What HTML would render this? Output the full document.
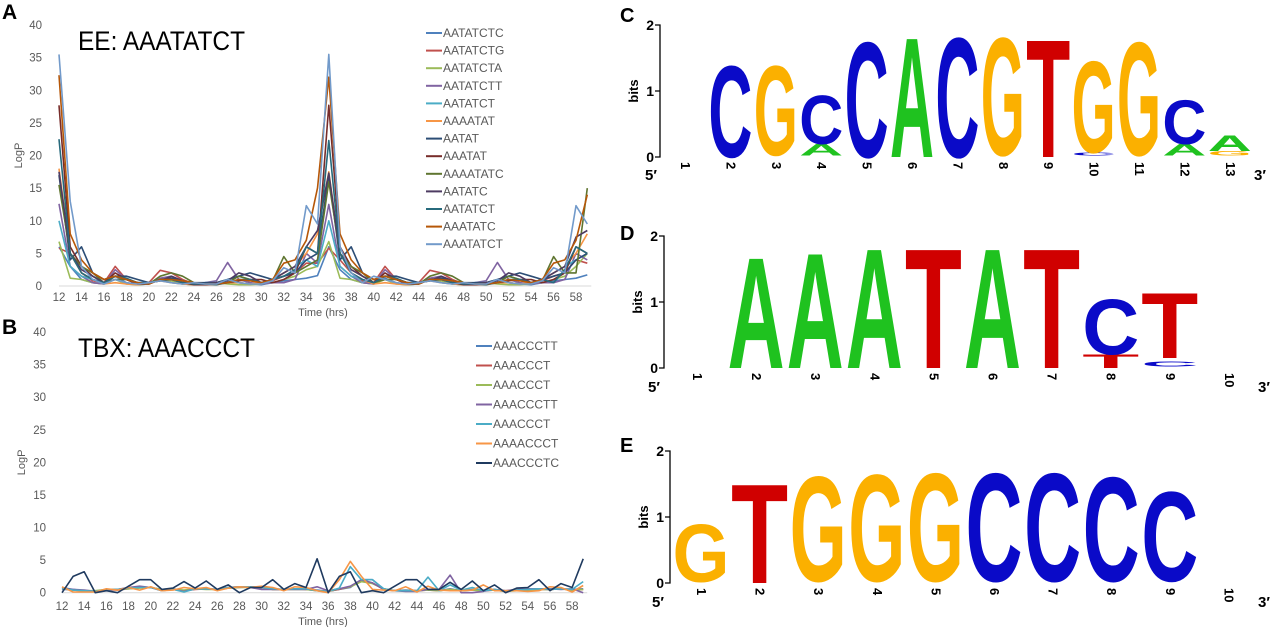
<!DOCTYPE html>
<html><head><meta charset="utf-8"><style>
html,body{margin:0;padding:0;background:#fff;}
svg{display:block;font-family:"Liberation Sans",Arial,sans-serif;}
</style></head><body>
<svg id="fig" width="1280" height="627" viewBox="0 0 1280 627" xmlns="http://www.w3.org/2000/svg">
<g id="panelA"></g>
<g id="panelB"></g>
<g id="logoC"></g>
<g id="logoD"></g>
<g id="logoE"></g>
</svg>
<script>
const hours = [12,13,14,15,16,17,18,19,20,21,22,23,24,25,26,27,28,29,30,31,32,33,34,35,36,37,38,39,40,41,42,43,44,45,46,47,48,49,50,51,52,53,54,55,56,57,58,59];
const tickHours = [12,14,16,18,20,22,24,26,28,30,32,34,36,38,40,42,44,46,48,50,52,54,56,58];
const yTicks = [0,5,10,15,20,25,30,35,40];

const namesA = ["AATATCTC","AATATCTG","AATATCTA","AATATCTT","AATATCT","AAAATAT","AATAT","AAATAT","AAAATATC","AATATC","AATATCT","AAATATC","AAATATCT"];
const colorsA = ["#4f81bd","#c0504d","#9bbb59","#8064a2","#4bacc6","#f79646","#2c4d75","#772c2a","#5f7530","#4d3b62","#276a7c","#b65708","#729aca"];
const a1 = [6,3,1,0.5,0.3,1.5,0.5,0.2,0.3,1,0.5,0.3,0.2,0.3,0.2,1,0.5,0.3,0.2,0.5,0.8,1,1.2,1.6,6,2.5,1,0.5,0.3,1.2,0.5,0.2,0.3,1,0.5,0.3,0.2,0.3,0.2,1,0.5,0.3,0.2,0.5,0.8,1,1.2,1.7];
const a2 = [5.8,5,2,0.8,0.5,3,1,0.3,0.5,2.4,2,1,0.3,0.2,0.3,0.5,0.5,0.3,0.5,0.8,1.5,2,3.5,3.5,5.8,4,2,0.8,0.5,3,1,0.3,0.5,2.4,2,1,0.3,0.2,0.3,0.5,0.5,0.3,0.5,0.8,1.5,2,4,3.5];
const a3 = [6.8,1.2,1,0.5,0.3,1,0.3,0.2,0.3,1,0.8,0.3,0.2,0.2,0.5,0.3,0.2,0.2,0.3,0.5,1,1.5,2.5,3,6.8,1.2,1,0.5,0.3,1,0.3,0.2,0.3,1,0.8,0.3,0.2,0.2,0.5,0.3,0.2,0.2,0.3,0.5,1,1.5,3,5];
const a4 = [12.6,3,1.5,0.5,0.3,2.5,1,0.3,0.3,1.2,1.5,0.8,0.3,0.5,0.8,3.6,1,0.5,0.3,0.5,0.5,1,5,3.5,12.5,3,1.5,0.5,0.3,2.5,1,0.3,0.3,1.2,1.5,0.8,0.3,0.5,0.8,3.6,1,0.5,0.3,0.5,0.5,1,5,4];
const a5 = [10,3,1.5,1,0.5,1.5,1,0.5,0.5,1,1,0.5,0.3,0.5,0.5,1,1.5,1,0.5,1,2,3,4,3,10,3,1.5,1,0.5,1.5,1,0.5,0.5,1,1,0.5,0.3,0.5,0.5,1,1.5,1,0.5,1,2,3,4,5];
const a6 = [18,5,2,1,0.3,0.5,0.3,0.2,0.5,0.8,0.5,0.3,0.2,0.3,0.2,0.5,0.5,0.3,0.5,1,2,3,5,8,17.5,5,2,1,0.3,0.5,0.3,0.2,0.5,0.8,0.5,0.3,0.2,0.3,0.2,0.5,0.5,0.3,0.5,1,2,3,5,8];
const a7 = [17,4,6,2,1,1.5,1.5,1,0.5,1,1.2,0.8,0.5,0.5,0.5,1,1.5,2,1.5,1,1.5,2,4,5,17,4,6,2,1,1.5,1.5,1,0.5,1,1.2,0.8,0.5,0.5,0.5,1,1.5,2,1.5,1,1.5,2,4,5];
const a8 = [27.7,6,3,1.5,0.5,2,1,0.3,0.3,1,1,0.5,0.2,0.2,0.3,0.5,0.8,1,1,0.5,1,2,6,5,27.7,6,3,1.5,0.5,2,1,0.3,0.3,1,1,0.5,0.2,0.2,0.3,0.5,0.8,1,1,0.5,1,2,6,5];
const a9 = [15.5,5,3,2,0.5,1,1,0.5,0.3,1.5,2,1.5,0.5,0.3,0.5,0.5,1.5,1,0.5,0.8,4.5,2,3,4,16,5,3,2,0.5,1,1,0.5,0.3,1.5,2,1.5,0.5,0.3,0.5,0.5,1.5,1,0.5,0.8,4.5,2,2,15];
const a10 = [17.5,5,2.5,1.5,0.5,1.5,1,0.5,0.5,0.8,1.5,0.8,0.3,0.3,0.5,0.8,2,1.5,0.5,1,2,3,6,8.5,17.3,5,2.5,1.5,0.5,1.5,1,0.5,0.5,0.8,1.5,0.8,0.3,0.3,0.5,0.8,2,1.5,0.5,1,2,3,7.5,8.5];
const a11 = [22.5,5,2,1,0.5,1.5,1.2,0.5,0.5,0.8,1,0.5,0.3,0.3,0.2,0.5,1,1,0.5,1,1.5,2.5,6,5,22.3,5,2,1,0.5,1.5,1.2,0.5,0.5,0.8,1,0.5,0.3,0.3,0.2,0.5,1,1,0.5,1,0.5,2.5,6,5];
const a12 = [32.3,8,4,2,1,1.5,1,0.5,0.3,1,1,0.8,0.5,0.3,0.3,0.5,1,0.8,0.5,1,3.5,4,7,15,32,8,4,2,1,1.5,1,0.5,0.3,1,1,0.8,0.5,0.3,0.3,0.5,1,0.8,0.5,1,3.5,4,7,14];
const a13 = [35.5,13,3,1,0.3,1,0.5,0.3,0.5,0.8,0.5,0.3,0.5,0.3,0.3,1,0.5,0.3,0.3,0.8,2.8,2,12.3,9.5,35.5,6,2,0.5,1.5,1,0.5,0.3,0.5,0.8,0.5,0.3,0.5,0.3,0.3,1,0.5,0.3,0.3,0.8,2.8,2,12.3,9.5];
const seriesA = [a1,a2,a3,a4,a5,a6,a7,a8,a9,a10,a11,a12,a13];

const namesB = ["AAACCCTT","AAACCCT","AAACCCT","AAACCCTT","AAACCCT","AAAACCCT","AAACCCTC"];
const colorsB = ["#4f81bd","#c0504d","#9bbb59","#8064a2","#4bacc6","#f79646","#1f3a5f"];
const b1 = [0.8,0.5,0.3,0.2,0.5,0.5,0.7,0.9,0.8,0.5,0.6,0.3,0.6,0.6,0.5,0.8,0.9,0.9,0.8,0.6,0.5,0.6,0.6,0.4,0.2,0.5,0.8,2,2,0.6,0.3,0.4,0.3,0.5,0.3,0.6,0.3,0.5,0.3,0.5,0.2,0.4,0.5,0.6,0.5,0.6,0.5,0.6];
const b2 = [0.7,0.4,0.3,0.2,0.5,0.4,0.6,0.8,0.8,0.4,0.5,0.3,0.5,0.6,0.5,0.7,0.8,0.9,0.8,0.5,0.5,0.6,0.5,0.3,0.2,0.5,0.9,1.8,1.5,0.5,0.3,0.3,0.3,0.4,0.3,0.5,0.3,0.4,0.3,0.4,0.2,0.4,0.4,0.5,0.5,0.6,0.4,0.5];
const b3 = [0.6,0.4,0.3,0.3,0.5,0.5,0.6,0.7,0.8,0.5,0.5,0.4,0.6,0.5,0.5,0.7,0.8,0.8,0.8,0.5,0.5,0.5,0.5,0.3,0.2,0.6,0.9,1.7,1.4,0.6,0.3,0.3,0.3,0.4,0.3,0.5,0.3,0.4,0.3,0.4,0.2,0.3,0.4,0.5,0.5,0.6,0.4,0.5];
const b4 = [0.5,0.5,0.4,0.2,0.3,0.5,0.8,1,0.8,0.3,0.5,0.2,0.6,0.6,0.5,0.8,0.9,0.8,0.5,0.5,0.5,0.5,0.5,0.9,0.3,0.6,1,2,1.5,0.5,0.3,0.2,0.2,0.5,0.5,2.7,0,0,0.2,0.5,0.3,0.5,0.6,0.6,0.6,0.5,0.6,0];
const b5 = [0.6,0.4,0.3,0.2,0.5,0.5,0.7,0.8,0.8,0.3,0.5,0.1,0.6,0.6,0.5,0.8,0.9,0.9,0.8,0.6,0.5,0.6,0.6,0.3,0.2,0.7,4,2,2,0.6,0.3,0.3,0.3,2.4,0.3,1.2,0.4,0.8,0.3,0.5,0.2,0.4,0.5,0.6,0.5,0.6,0.5,1.7];
const b6 = [0.9,0.1,0.1,0.1,0.6,0.4,0.8,0.4,0.9,0.3,0.4,0.8,0.6,0.8,0.3,0.7,0.9,0.8,1,0.8,0.3,0.9,0.8,0.3,0,2,4.8,2.5,0.5,0.4,0.3,0.9,0.1,1,0.4,0.3,0.3,0.4,1.2,0.3,0.3,0.3,0.2,0.3,0.9,0.8,0.1,1.1];
const b7 = [0,2.5,3.2,0,0.3,0,1,2,2,0.5,0.7,1.7,0.7,1.8,0.5,1.2,0,0.8,0.8,2,0.5,1.4,0.8,5.2,0,2.5,3.2,0,0.3,0,1,2,2,0.5,0.5,1.6,0.5,1.8,0.3,1.2,0,0.7,0.8,2,0.3,1.4,0.8,5.2];
const seriesB = [b1,b2,b3,b4,b5,b6,b7];

const NS = "http://www.w3.org/2000/svg";
function mk(tag, attrs, parent, txt){
  const e = document.createElementNS(NS, tag);
  for (const k in attrs) e.setAttribute(k, attrs[k]);
  if (txt !== undefined) e.textContent = txt;
  parent.appendChild(e);
  return e;
}

function lineChart(g, cfg){
  const xs = h => cfg.x0 + (h - 12) * cfg.dx;
  const ys = v => cfg.y0 - v * (cfg.y0 - cfg.y40) / 40;
  let t;
  t = mk("text", {x:2, y:cfg.letterY, "font-size":21, "font-weight":"bold", fill:"#000"}, g, cfg.letter);
  
  
  const base = mk("line", {x1:xs(12), x2:xs(59)+4, y1:ys(0), y2:ys(0), stroke:"#d9d9d9", "stroke-width":1}, g);
  
  
  yTicks.forEach(v => {
    const l = mk("text", {x:cfg.yLabX, y:ys(v)+4, "font-size":11.5, fill:"#595959", "text-anchor":"end"}, g, String(v));
    
    
  });
  tickHours.forEach(h => {
    const l = mk("text", {x:xs(h), y:cfg.xLabY, "font-size":11.5, fill:"#595959", "text-anchor":"middle"}, g, String(h));
    
    
  });
  t = mk("text", {x:cfg.titleXc, y:cfg.xTitleY, "font-size":11, fill:"#595959", "text-anchor":"middle"}, g, "Time (hrs)");
  
  
  t = mk("text", {x:0, y:0, "font-size":11, fill:"#595959", "text-anchor":"middle", transform:`translate(${cfg.yTitleX},${(ys(0)+ys(40))/2}) rotate(-90)`}, g, "LogP");
  
  
  t = mk("text", {x:cfg.titleX, y:cfg.titleY, "font-size":27, fill:"#000", textLength:cfg.titleW, lengthAdjust:"spacingAndGlyphs"}, g, cfg.title);
  
  
  cfg.series.forEach((s, i) => {
    const d = s.map((v, j) => (j ? "L" : "M") + xs(hours[j]).toFixed(1) + "," + ys(v).toFixed(1)).join("");
    const p = mk("path", {d:d, fill:"none", stroke:cfg.colors[i], "stroke-width":1.6, "stroke-linejoin":"round"}, g);
    
    
    const ly = cfg.legY + i * cfg.legDy;
    const ll = mk("line", {x1:cfg.legX, x2:cfg.legX+16, y1:ly, y2:ly, stroke:cfg.colors[i], "stroke-width":2}, g);
    
    
    const lt = mk("text", {x:cfg.legX+17, y:ly+4, "font-size":12, fill:"#595959"}, g, cfg.names[i]);
    
    
  });
}

lineChart(document.getElementById("panelA"), {letter:"A", letterY:19, x0:59, dx:11.24, y0:286, y40:25, yLabX:42, xLabY:301, xTitleY:316, titleXc:323, yTitleX:22,
  title:"EE: AAATATCT", titleX:78, titleY:50, titleW:167, series:seriesA, colors:colorsA, names:namesA, legX:426, legY:33, legDy:17.6});
lineChart(document.getElementById("panelB"), {letter:"B", letterY:334, x0:62, dx:11.09, y0:592.7, y40:332, yLabX:46, xLabY:610, xTitleY:625, titleXc:323, yTitleX:25,
  title:"TBX: AAACCCT", titleX:78, titleY:357, titleW:177, series:seriesB, colors:colorsB, names:namesB, legX:476, legY:346, legDy:19.5});

/* sequence logos: each column = stack of [letter, bottomBits, topBits] */
const logoC = [[],[["C",0,1.43]],[["G",0.03,1.43]],[["A",0.02,0.2],["C",0.2,0.96]],[["C",0,1.8]],[["A",0,1.87]],[["C",0,1.87]],[["G",0.03,1.87]],[["T",0,1.84]],[["C",0.02,0.07],["G",0.07,1.5]],[["G",0.03,1.8]],[["A",0.02,0.2],["C",0.2,0.89]],[["G",0.02,0.09],["A",0.09,0.33]]];
const logoD = [[],[["A",0,1.73]],[["A",0,1.8]],[["A",0,1.87]],[["T",0,1.87]],[["A",0,1.87]],[["T",0,1.87]],[["T",0,0.21],["C",0.21,1.07]],[["C",0.02,0.1],["T",0.15,1.17]],[]];
const logoE = [[["G",0.02,0.92]],[["T",0,1.55]],[["G",0.03,1.67]],[["G",0.03,1.7]],[["G",0.03,1.72]],[["C",0.03,1.72]],[["C",0.03,1.72]],[["C",0.03,1.66]],[["C",0.03,1.43]],[]];
const baseColors = {A:"#1fc21f", C:"#0a0ac8", G:"#fbb000", T:"#d00000"};

function logo(g, cfg){
  const ys = b => cfg.y0 - b * cfg.perBit;
  let t = mk("text", {x:cfg.letterX, y:cfg.letterY, "font-size":20, "font-weight":"bold"}, g, cfg.letter);
  
  
  const ax = mk("path", {d:`M${cfg.axX-5},${ys(2)}H${cfg.axX}V${ys(0)}H${cfg.axX-5}M${cfg.axX-5},${ys(1)}H${cfg.axX}`, fill:"none", stroke:"#000", "stroke-width":1.3}, g);
  
  
  [0,1,2].forEach(v => {
    const l = mk("text", {x:cfg.axX-6, y:ys(v)+5, "font-size":14, "font-weight":"bold", "text-anchor":"end"}, g, String(v));
    
    
  });
  t = mk("text", {x:0, y:0, "font-size":13, "font-weight":"bold", "text-anchor":"middle", transform:`translate(${cfg.axX-22},${ys(1)}) rotate(-90)`}, g, "bits");
  
  
  cfg.cols.forEach((col, i) => {
    const cx = cfg.col1 + i * cfg.dx;
    const l = mk("text", {x:0, y:0, "font-size":13, "font-weight":"bold", "text-anchor":"start", transform:`translate(${cx-4},${ys(0)+5}) rotate(90)`}, g, String(i+1));
    
    
    col.forEach(([ch, lo, hi]) => {
      const h = (hi - lo) * cfg.perBit;
      const w = cfg.w;
      const grp = mk("g", {transform:`translate(${cx - w/2},${ys(lo)}) scale(1,${(h/72).toFixed(4)})`}, g);
      const tx = mk("text", {x:0, y:0, "font-size":100, "font-weight":"bold", fill:baseColors[ch], textLength:w, lengthAdjust:"spacingAndGlyphs"}, grp, ch);
      
      
    });
  });
  t = mk("text", {x:cfg.p5x, y:cfg.pY, "font-size":15, "font-weight":"bold"}, g, "5\u2032");
  
  
  t = mk("text", {x:cfg.p3x, y:cfg.pY, "font-size":15, "font-weight":"bold"}, g, "3\u2032");
  
  
}

logo(document.getElementById("logoC"), {letter:"C", letterX:620, letterY:22, axX:660, y0:157, perBit:66, col1:685, dx:45.4, w:44, cols:logoC, p5x:645, p3x:1254, pY:180});
logo(document.getElementById("logoD"), {letter:"D", letterX:620, letterY:240, axX:664, y0:368, perBit:66, col1:697, dx:59.1, w:57, cols:logoD, p5x:648, p3x:1258, pY:392});
logo(document.getElementById("logoE"), {letter:"E", letterX:620, letterY:452, axX:670, y0:583, perBit:66, col1:701, dx:58.6, w:57, cols:logoE, p5x:652, p3x:1258, pY:607});
</script>
</body></html>
